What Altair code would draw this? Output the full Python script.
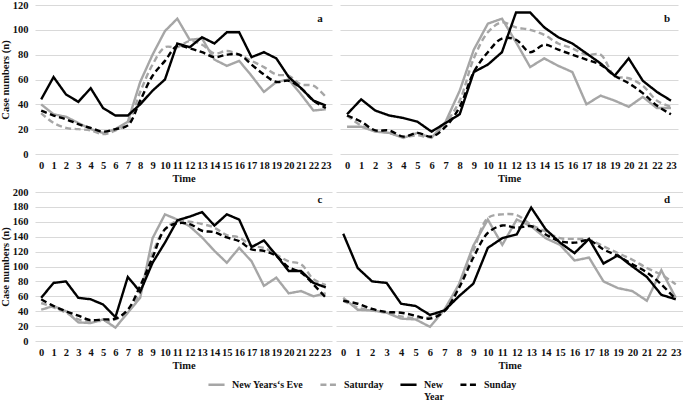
import altair as alt
import pandas as pd

hours = list(range(24))
series_names = ["New Years‘s Eve", "Saturday", "New Year", "Sunday"]
series_colors = ["#a6a6a6", "#a6a6a6", "#000000", "#000000"]
series_dashes = [[1, 0], [6, 3.5], [1, 0], [6, 3.5]]
series_smooth = [False, True, False, True]

# Panel a
a_nye = [40, 32, 30, 25, 20, 17, 20, 26, 58, 80, 99, 109, 92, 93, 76, 71, 75, 63, 50, 58, 60, 48, 35, 36]
a_sat = [33, 25, 21, 20, 19, 16, 19, 25, 50, 72, 86, 86, 91, 88, 81, 83, 80, 75, 70, 64, 63, 56, 55, 46]
a_ny = [44, 62, 48, 42, 53, 37, 31, 31, 40, 51, 60, 89, 86, 94, 89, 98, 98, 78, 82, 77, 62, 53, 43, 39]
a_sun = [35, 31, 28, 24, 21, 18, 20, 23, 43, 63, 75, 87, 85, 82, 78, 80, 80, 72, 64, 58, 59, 53, 43, 37]

# Panel b
b_nye = [22, 22, 18, 17, 13, 17, 13, 26, 51, 84, 105, 109, 90, 70, 77, 71, 66, 40, 47, 43, 38, 46, 37, 37]
b_sat = [31, 23, 19, 17, 14, 15, 14, 25, 43, 77, 98, 106, 102, 100, 96, 89, 85, 80, 80, 63, 61, 55, 43, 38]
b_ny = [32, 44, 35, 31, 29, 26, 18, 25, 32, 66, 72, 82, 114, 114, 102, 94, 89, 81, 73, 63, 77, 59, 50, 43]
b_sun = [31, 26, 19, 19, 14, 17, 14, 22, 38, 66, 82, 93, 92, 82, 88, 84, 80, 76, 72, 63, 57, 49, 39, 32]

# Panel c
c_nye = [42, 47, 40, 25, 24, 29, 18, 38, 58, 138, 170, 163, 154, 139, 121, 105, 125, 107, 74, 85, 64, 67, 60, 64]
c_sat = [51, 45, 38, 29, 27, 27, 29, 40, 65, 118, 150, 161, 160, 157, 152, 142, 139, 128, 125, 116, 107, 103, 83, 75]
c_ny = [58, 78, 80, 58, 56, 49, 32, 86, 66, 105, 132, 162, 167, 173, 155, 170, 163, 126, 135, 115, 94, 94, 78, 72]
c_sun = [56, 47, 40, 34, 28, 29, 30, 42, 74, 112, 150, 158, 157, 148, 146, 139, 134, 123, 121, 114, 99, 92, 76, 58]

# Panel d
d_nye = [58, 42, 41, 38, 30, 29, 19, 42, 76, 128, 163, 129, 163, 154, 138, 129, 108, 112, 80, 71, 67, 54, 95, 58]
d_sat = [54, 45, 41, 38, 33, 31, 32, 42, 74, 121, 165, 170, 169, 156, 147, 138, 137, 136, 127, 118, 109, 98, 89, 76]
d_ny = [144, 98, 80, 78, 50, 47, 35, 41, 60, 77, 125, 138, 143, 179, 150, 132, 118, 137, 104, 115, 100, 86, 62, 56]
d_sun = [54, 50, 43, 39, 38, 34, 30, 40, 71, 112, 145, 155, 152, 154, 143, 134, 132, 135, 123, 114, 103, 92, 76, 56]

FONT = "Liberation Serif"


def to_frame(values_by_series):
    rows = []
    for name, values in zip(series_names, values_by_series):
        for h, v in zip(hours, values):
            rows.append({"hour": h, "series": name, "cases": v})
    return pd.DataFrame(rows)


# One shared legend. "New Year" wraps onto two lines; every other label gets
# an empty second line so all entries share the same height and stay level.
legend = alt.Legend(
    title=None,
    orient="none",
    legendX=172,
    legendY=370,
    direction="horizontal",
    symbolType="stroke",
    symbolSize=260,
    symbolStrokeWidth=2.5,
    labelFont=FONT,
    labelFontWeight="bold",
    labelFontSize=10,
    labelColor="#111111",
    labelOffset=6,
    columnPadding=11,
    labelLimit=0,
    labelExpr="datum.label == 'New Year' ? ['New', 'Year'] : [datum.label, '']",
)


def panel(values_by_series, letter, width, ymax, show_y, letter_dx, letter_y):
    df = to_frame(values_by_series)
    x = alt.X(
        "hour:O",
        sort=hours,
        title="Time",
        scale=alt.Scale(type="point", padding=0.5),
        axis=alt.Axis(labelAngle=0, ticks=False, domain=False, grid=False,
                      labelPadding=6, titlePadding=3),
    )
    y_axis = dict(values=list(range(0, ymax + 1, 20)), grid=True, ticks=False,
                  domain=False, gridColor="#d9d9d9", gridWidth=1)
    if show_y:
        y_axis.update(title="Case numbers (n)", labelPadding=7, titlePadding=2)
    else:
        y_axis.update(title=None, labels=False)
    y = alt.Y("cases:Q", scale=alt.Scale(domain=[0, ymax], nice=False),
              axis=alt.Axis(**y_axis))
    color = alt.Color("series:N", scale=alt.Scale(domain=series_names, range=series_colors),
                      legend=legend)
    dash = alt.StrokeDash("series:N", scale=alt.Scale(domain=series_names, range=series_dashes),
                          legend=legend)
    layers = []
    for name, smooth in zip(series_names, series_smooth):
        layers.append(
            alt.Chart(df)
            .transform_filter(alt.datum.series == name)
            .mark_line(strokeWidth=2.4, interpolate="catmull-rom" if smooth else "linear")
            .encode(x=x, y=y, color=color, strokeDash=dash)
        )
    tag = (
        alt.Chart(pd.DataFrame({"panel": [letter]}))
        .mark_text(font=FONT, fontWeight="bold", fontSize=11, color="#111111")
        .encode(text="panel:N", x=alt.value(width - letter_dx), y=alt.value(letter_y))
    )
    return alt.layer(*layers, tag).properties(width=width, height=149)


pa = panel([a_nye, a_sat, a_ny, a_sun], "a", 297, 120, True, 12, 14)
pb = panel([b_nye, b_sat, b_ny, b_sun], "b", 338, 120, False, 11, 14)
pc = panel([c_nye, c_sat, c_ny, c_sun], "c", 297, 200, True, 12, 8)
pd_ = panel([d_nye, d_sat, d_ny, d_sun], "d", 347, 200, False, 16, 8)

chart = (
    alt.vconcat(
        alt.hconcat(pa, pb, spacing=8),
        alt.hconcat(pc, pd_, spacing=4),
        spacing=3,
    )
    .properties(padding={"left": 0, "top": 0, "right": 0, "bottom": 0})
    .configure_view(stroke=None)
    .configure_axis(
        labelFont=FONT, labelFontWeight="bold", labelFontSize=10.5, labelColor="#111111",
        titleFont=FONT, titleFontWeight="bold", titleFontSize=10.5, titleColor="#111111",
    )
)

chart.save("out.html", embed_options={"renderer": "svg", "actions": False})
